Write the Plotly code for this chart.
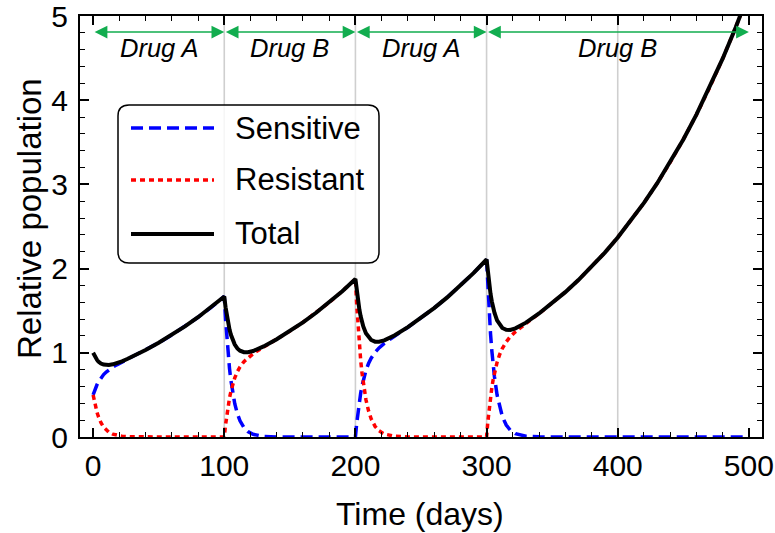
import plotly.graph_objects as go

# ---------------- data ----------------
days = [0, 1, 2, 3, 4, 5, 6, 8, 10, 12, 15, 18, 22, 26, 30, 40, 50, 60, 70, 80, 90,
        100, 101, 102, 103, 104, 105, 106, 108, 110, 112, 115, 118, 122, 126, 130, 140, 150, 160, 170, 180, 190,
        200, 201, 202, 203, 204, 205, 206, 208, 210, 212, 215, 218, 222, 226, 230, 240, 250, 260, 270, 280, 290,
        300, 301, 302, 303, 304, 305, 306, 308, 310, 312, 315, 318, 322, 326, 330, 340, 350, 360, 370, 380, 390,
        400, 410, 420, 430, 440, 450, 460, 470, 480, 490, 500]

sensitive = [0.5, 0.5476, 0.5883, 0.6234, 0.6537, 0.680, 0.7031, 0.7413, 0.772, 0.7974, 0.8294, 0.8569, 0.8897, 0.9211, 0.9524, 1.0327, 1.1189, 1.2121, 1.313, 1.4224, 1.5408,
             1.669, 1.3941, 1.1645, 0.9725, 0.8125, 0.6786, 0.5668, 0.3954, 0.2759, 0.1924, 0.1122, 0.0654, 0.0319, 0.0155, 0.0075, 0.0012, 0.0002, 0, 0, 0, 0,
             0, 0.1652, 0.3041, 0.4216, 0.5206, 0.6046, 0.676, 0.7889, 0.8726, 0.936, 1.0062, 1.0584, 1.1121, 1.1577, 1.2001, 1.3037, 1.413, 1.5308, 1.6583, 1.7964, 1.9459,
             2.108, 1.7608, 1.4708, 1.2283, 1.0262, 0.8571, 0.7159, 0.4994, 0.3485, 0.2431, 0.1417, 0.0826, 0.0403, 0.0196, 0.0095, 0.0015, 0.0002, 0, 0, 0, 0,
             0, 0, 0, 0, 0, 0, 0, 0, 0, 0, 0]

resistant = [0.5, 0.4177, 0.3489, 0.2914, 0.2434, 0.2033, 0.1698, 0.1185, 0.0827, 0.0577, 0.0336, 0.0196, 0.0096, 0.0047, 0.0023, 0.0004, 0.0001, 0, 0, 0, 0,
             0, 0.147, 0.2706, 0.3751, 0.4632, 0.538, 0.6015, 0.702, 0.7764, 0.8328, 0.8953, 0.9418, 0.9895, 1.0301, 1.0678, 1.16, 1.2573, 1.362, 1.4755, 1.5984, 1.7314,
             1.8757, 1.5668, 1.3087, 1.093, 0.9131, 0.7627, 0.637, 0.4444, 0.3101, 0.2163, 0.126, 0.0735, 0.0358, 0.0174, 0.0084, 0.0013, 0.0002, 0, 0, 0, 0,
             0, 0.1857, 0.3418, 0.4738, 0.5851, 0.6795, 0.7597, 0.8866, 0.9806, 1.0519, 1.1308, 1.1895, 1.2498, 1.301, 1.3487, 1.4652, 1.588, 1.7203, 1.8636, 2.0188, 2.1869,
             2.369, 2.5664, 2.7802, 3.0117, 3.2626, 3.5342, 3.8286, 4.1475, 4.4929, 4.8671, 5.2725]

total = [1.0, 0.9653, 0.9372, 0.9148, 0.8971, 0.8833, 0.8729, 0.8598, 0.8547, 0.8551, 0.863, 0.8765, 0.8993, 0.9258, 0.9547, 1.0331, 1.119, 1.2121, 1.313, 1.4224, 1.5408,
         1.669, 1.5411, 1.4351, 1.3476, 1.2757, 1.2166, 1.1683, 1.0974, 1.0523, 1.0252, 1.0075, 1.0072, 1.0214, 1.0456, 1.0753, 1.1612, 1.2575, 1.362, 1.4755, 1.5984, 1.7314,
         1.8757, 1.732, 1.6128, 1.5146, 1.4337, 1.3673, 1.313, 1.2333, 1.1827, 1.1523, 1.1322, 1.1319, 1.1479, 1.1751, 1.2085, 1.305, 1.4132, 1.5308, 1.6583, 1.7964, 1.9459,
         2.108, 1.9465, 1.8126, 1.7021, 1.6113, 1.5366, 1.4756, 1.386, 1.3291, 1.295, 1.2725, 1.2721, 1.2901, 1.3206, 1.3582, 1.4667, 1.5882, 1.7203, 1.8636, 2.0188, 2.1869,
         2.369, 2.5664, 2.7802, 3.0117, 3.2626, 3.5342, 3.8286, 4.1475, 4.4929, 4.8671, 5.2725]

switch_days = [100, 200, 300, 400]
phase_starts = [0, 100, 200, 300]
phase_ends = [100, 200, 300, 500]
phase_labels = ["Drug A", "Drug B", "Drug A", "Drug B"]

series_names = ["Sensitive", "Resistant", "Total"]
series_colors = ["#0000ff", "#ff0000", "#000000"]
series_dash = ["12px,6px", "5px,4px", "solid"]
series_width = [3.5, 3.5, 4]

x_ticks = [0, 100, 200, 300, 400, 500]
y_ticks = [0, 1, 2, 3, 4, 5]

FONT = "Liberation Sans, Arial, Helvetica, sans-serif"
GREEN = "#12ad4f"

fig = go.Figure()

for name, vals, col, dash, w in zip(series_names, [sensitive, resistant, total],
                                    series_colors, series_dash, series_width):
    fig.add_trace(go.Scatter(x=days, y=vals, mode="lines", name=name,
                             line=dict(color=col, dash=dash, width=w),
                             showlegend=False, cliponaxis=True))

# vertical switch lines
for d in switch_days:
    fig.add_shape(type="line", xref="x", yref="paper", x0=d, x1=d, y0=0, y1=1,
                  line=dict(color="#cfcfcf", width=1.6), layer="below")

# phase arrows and labels
ARROW_Y = 4.81
for s, e, lab in zip(phase_starts, phase_ends, phase_labels):
    fig.add_annotation(x=e, y=ARROW_Y, ax=s, ay=ARROW_Y, xref="x", yref="y",
                       axref="x", ayref="y", text="", showarrow=True,
                       arrowhead=2, startarrowhead=2, arrowside="end+start",
                       arrowsize=1.7, startarrowsize=1.7, arrowwidth=1.5,
                       arrowcolor=GREEN, standoff=0, startstandoff=0)
    fig.add_annotation(x=(s + e) / 2, y=4.62, xref="x", yref="y", text="<i>%s</i>" % lab,
                       showarrow=False, font=dict(family=FONT, size=25.5, color="black"),
                       xanchor="center", yanchor="middle")

# manual legend (rounded frame + samples + labels)
W, H = 775, 533
L, R, T, B = 80, 13, 16, 96
PW, PH = W - L - R, H - T - B


def px(xp):
    return (xp - L) / PW


def py(yp):
    return (H - B - yp) / PH


x0, x1, y0, y1, r = 118, 379, 105, 263, 11
rx, ry = r / PW, r / PH
X0, X1, Y0, Y1 = px(x0), px(x1), py(y1), py(y0)
path = (f"M {X0+rx},{Y0} L {X1-rx},{Y0} Q {X1},{Y0} {X1},{Y0+ry} "
        f"L {X1},{Y1-ry} Q {X1},{Y1} {X1-rx},{Y1} L {X0+rx},{Y1} "
        f"Q {X0},{Y1} {X0},{Y1-ry} L {X0},{Y0+ry} Q {X0},{Y0} {X0+rx},{Y0} Z")
fig.add_shape(type="path", path=path, xref="paper", yref="paper",
              line=dict(color="black", width=1.5), fillcolor="rgba(255,255,255,0.8)",
              layer="above")
row_y = [128, 180, 234]
for name, col, dash, w, yy in zip(series_names, series_colors, series_dash, series_width, row_y):
    fig.add_shape(type="line", xref="paper", yref="paper", x0=px(131), x1=px(214),
                  y0=py(yy), y1=py(yy), line=dict(color=col, dash=dash, width=w),
                  layer="above")
    fig.add_annotation(x=px(233), y=py(yy), xref="paper", yref="paper", text=name,
                       showarrow=False, xanchor="left", yanchor="middle",
                       font=dict(family=FONT, size=31, color="black"))

# axis titles
fig.add_annotation(x=px(420), y=py(514), xref="paper", yref="paper", text="Time (days)",
                   showarrow=False, xanchor="center", yanchor="middle",
                   font=dict(family=FONT, size=32, color="black"))
fig.add_annotation(x=px(29), y=py(219), xref="paper", yref="paper", text="Relative population",
                   showarrow=False, xanchor="center", yanchor="middle", textangle=-90,
                   font=dict(family=FONT, size=33, color="black"))

axis_common = dict(showgrid=False, zeroline=False, showline=True, linecolor="black",
                   linewidth=2, mirror="ticks", ticks="inside", tickcolor="black",
                   tickwidth=1.5, ticklen=9, automargin=False, ticklabeloverflow="allow",
                   tickfont=dict(family=FONT, size=30, color="black"))

fig.update_xaxes(range=[-10, 510], tickvals=x_ticks, ticktext=[str(v) for v in x_ticks],
                 minor=dict(dtick=20, tick0=0, ticks="inside", ticklen=5, tickwidth=1.2,
                            tickcolor="black"),
                 ticklabelstandoff=1, **axis_common)
fig.update_yaxes(range=[0, 5], tickvals=y_ticks, ticktext=[str(v) for v in y_ticks],
                 minor=dict(dtick=0.2, tick0=0, ticks="inside", ticklen=5, tickwidth=1.2,
                            tickcolor="black"),
                 ticklabelstandoff=4, **axis_common)

fig.update_layout(width=W, height=H, autosize=False,
                  margin=dict(l=L, r=R, t=T, b=B, pad=0),
                  plot_bgcolor="white", paper_bgcolor="white",
                  font=dict(family=FONT, color="black"), showlegend=False)

fig.write_html("out.html")
